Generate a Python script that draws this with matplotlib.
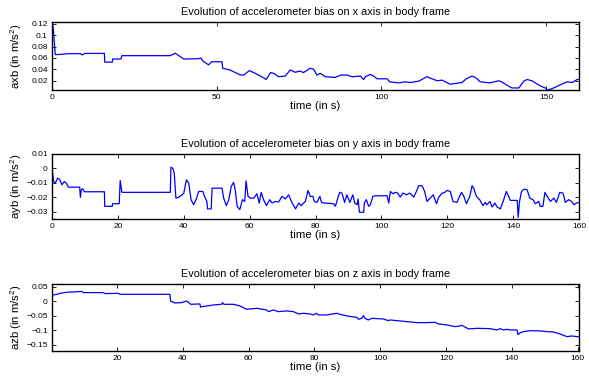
import numpy as np
import matplotlib
matplotlib.use('Agg')
import matplotlib.pyplot as plt
from matplotlib.ticker import FuncFormatter

plt.rcParams['font.family'] = ['Liberation Sans', 'DejaVu Sans']
plt.rcParams['mathtext.default'] = 'regular'

# bias on x axis [m/s^2]
t_x = [0, 0.1, 0.4, 1.0, 2, 5, 8.6, 9.2, 10, 15.9, 16.0, 18.3, 18.4, 20.9, 21.2, 35.9,
       37.4, 40, 44.5, 45.2, 45.9, 46.5, 47.5, 48.5, 51.6, 51.8, 54, 57.2, 58.2, 59.9,
       61.7, 64.2, 65, 66.3, 67.3, 68.8, 70.8, 72.3, 73.8, 75.3, 76.3, 78.4, 79.4, 80.4,
       81.4, 83, 86, 87.6, 89.6, 91.1, 93.6, 94.6, 95.1, 96.6, 97.6, 98.7, 101.7, 102.5,
       105.2, 107.2, 108.8, 111.3, 113.8, 116.9, 118.4, 120.9, 124.4, 125.9, 127.5, 128.5,
       130, 133, 135.5, 136.5, 138.1, 139.6, 141.7, 143.2, 144.2, 145.7, 148.2, 149.7,
       150.3, 151.8, 153.3, 156.3, 157.9, 159.4, 160]
axb = [0.004, 0.123, 0.11, 0.066, 0.066, 0.0675, 0.0677, 0.0653, 0.068, 0.068, 0.0528,
       0.0528, 0.0582, 0.0582, 0.0641, 0.0641, 0.0683, 0.0582, 0.0588, 0.06, 0.054, 0.052,
       0.048, 0.0534, 0.0534, 0.0421, 0.0391, 0.0302, 0.0302, 0.0379, 0.0332, 0.0254,
       0.0224, 0.0344, 0.0332, 0.0272, 0.0284, 0.0391, 0.035, 0.0373, 0.0344, 0.0421,
       0.0403, 0.0302, 0.0332, 0.0272, 0.026, 0.0302, 0.0302, 0.0272, 0.0284, 0.0224,
       0.0272, 0.0314, 0.0284, 0.0236, 0.0236, 0.0183, 0.0165, 0.0183, 0.0171, 0.0195,
       0.0272, 0.0201, 0.0213, 0.0141, 0.0171, 0.0242, 0.0284, 0.026, 0.0183, 0.0165,
       0.0201, 0.0183, 0.0123, 0.0076, 0.0076, 0.0195, 0.0224, 0.0201, 0.0111, 0.0076,
       0.004, 0.0064, 0.0105, 0.0183, 0.0171, 0.0224, 0.0224]

# bias on y axis
t_y = [0, 0.5, 1, 1.7, 2.3, 3, 3.7, 4.3, 5.0, 8.4, 8.6, 8.9, 9.3, 9.9, 15.9, 16.0, 18.3,
       18.4, 20.4, 20.7, 21.2, 35.9, 36.1, 36.7, 37.1, 37.6, 38.4, 39.5, 40.0, 40.8, 41.5,
       42.2, 43, 43.8, 44.5, 45.8, 46.2, 47, 47.2, 48.3, 48.6, 51.6, 52.1, 52.9, 53.6,
       54.4, 55.1, 55.6, 56.2, 57, 57.8, 58.5, 58.9, 59.5, 60.2, 61.2, 62.2, 62.9, 63.5,
       64.2, 65.1, 66.1, 66.8, 67.8, 68.8, 69.8, 70.8, 71.8, 72.9, 73.9, 74.9, 75.6, 76.9,
       77.7, 78.4, 79.2, 79.6, 80.4, 81.3, 81.8, 82.5, 85.5, 86, 87.3, 88, 88.8, 89.5,
       90.4, 91.3, 91.9, 92.6, 92.9, 93.3, 94.6, 94.8, 95.4, 96.1, 96.6, 97.4, 98.1,
       101.7, 102.2, 102.7, 103.5, 104.2, 104.9, 105.7, 106.5, 107.6, 108.6, 109.8, 110.6,
       111.3, 112.3, 113.1, 113.8, 114.8, 115.7, 116.7, 117.4, 118.4, 118.9, 119.9, 120.9,
       121.7, 122.9, 123.7, 124.3, 125, 125.8, 126.8, 127.5, 128, 128.8, 129.8, 130.8,
       131.5, 132.0, 132.9, 133.6, 134.4, 135.1, 136.1, 137.1, 137.9, 138.6, 139.1, 141.2,
       141.5, 141.9, 142.5, 143.2, 144.2, 145, 146, 146.7, 147.7, 148.2, 149, 149.6,
       150.3, 151.3, 152.3, 153.1, 154.1, 155.1, 155.8, 156.8, 157.7, 158.4, 159.2, 160]
ayb = [0.0, -0.0091, -0.0102, -0.0068, -0.0075, -0.0114, -0.0091, -0.0102, -0.0130,
       -0.0130, -0.0201, -0.0148, -0.0141, -0.0162, -0.0162, -0.0263, -0.0263, -0.0245,
       -0.0245, -0.0084, -0.0166, -0.0166, 0.0008, 0.0, -0.0033, -0.0206, -0.0201,
       -0.0183, -0.0171, -0.0079, -0.0102, -0.0217, -0.0252, -0.0212, -0.0160, -0.0160,
       -0.0190, -0.0229, -0.0281, -0.0281, -0.0137, -0.0137, -0.0206, -0.0258, -0.0222,
       -0.0125, -0.0097, -0.0148, -0.0263, -0.0286, -0.0217, -0.0229, -0.0086, -0.0194,
       -0.0206, -0.0206, -0.0176, -0.0240, -0.0166, -0.0217, -0.0258, -0.0217, -0.0240,
       -0.0229, -0.0233, -0.0194, -0.0212, -0.0183, -0.0240, -0.0281, -0.0240, -0.0258,
       -0.0229, -0.0153, -0.0194, -0.0194, -0.0229, -0.0236, -0.0194, -0.0236, -0.0240,
       -0.0245, -0.0263, -0.0166, -0.0171, -0.0236, -0.0183, -0.0236, -0.0183, -0.0240,
       -0.0252, -0.0212, -0.0304, -0.0304, -0.0240, -0.0217, -0.0263, -0.0252, -0.0194,
       -0.0190, -0.0190, -0.0240, -0.0160, -0.0176, -0.0166, -0.0171, -0.0199, -0.0171,
       -0.0183, -0.0171, -0.0199, -0.0160, -0.0120, -0.0120, -0.0160, -0.0229, -0.0206,
       -0.0183, -0.0245, -0.0199, -0.0171, -0.0171, -0.0153, -0.0160, -0.0229, -0.0236,
       -0.0194, -0.0166, -0.0194, -0.0245, -0.0194, -0.0120, -0.0137, -0.0194, -0.0217,
       -0.0258, -0.0236, -0.0252, -0.0229, -0.0268, -0.0240, -0.0268, -0.0281, -0.0217,
       -0.0160, -0.0194, -0.0222, -0.0222, -0.0339, -0.0229, -0.0160, -0.0144, -0.0148,
       -0.0206, -0.0217, -0.0245, -0.0229, -0.0263, -0.0263, -0.0166, -0.0194, -0.0229,
       -0.0206, -0.0236, -0.0166, -0.0171, -0.0236, -0.0217, -0.0229, -0.0252, -0.0240,
       -0.0236]

# bias on z axis
t_z = [0.25, 0.5, 1.7, 2.7, 4.7, 8.7, 9.3, 9.8, 15.8, 16.4, 20.4, 20.9, 36.1, 36.3, 37.6,
       39.7, 41.2, 42.4, 45.2, 45.4, 49.3, 51.8, 52.1, 52.5, 55.4, 57.4, 59.4, 62.5, 65.5,
       66, 67.5, 69, 71.6, 73.6, 75.2, 76.7, 78.7, 79.7, 80.7, 81.2, 83.8, 86.8, 87.8,
       89.9, 91.4, 92.9, 93.4, 94.4, 94.9, 95.4, 96.4, 97.5, 101, 102.5, 103, 106.1, 108.1,
       111.1, 114.2, 116.7, 117.7, 120.3, 122.8, 124.3, 124.8, 126.9, 129.4, 133.4, 135.5,
       136.5, 137.5, 138.5, 139.5, 141.6, 141.9, 142.6, 143.6, 145.6, 148.7, 150.7, 152.7,
       154.7, 156.8, 158.3, 159.8, 160.5]
azb = [0.0066, 0.021, 0.0237, 0.027, 0.0306, 0.0329, 0.0337, 0.0294, 0.0294, 0.026,
       0.0271, 0.0237, 0.0237, 0.0, -0.0058, -0.0049, 0.0009, -0.0106, -0.0094, -0.0197,
       -0.0129, -0.0106, -0.0049, -0.0106, -0.0106, -0.0163, -0.0277, -0.0243, -0.030,
       -0.0357, -0.030, -0.0357, -0.0334, -0.0357, -0.0437, -0.0414, -0.0437, -0.0471,
       -0.0414, -0.0471, -0.0471, -0.0414, -0.0449, -0.0506, -0.0529, -0.0551, -0.062,
       -0.0586, -0.0494, -0.0586, -0.0643, -0.0586, -0.0609, -0.0666, -0.0643, -0.0677,
       -0.070, -0.0734, -0.0734, -0.0723, -0.078, -0.0814, -0.0871, -0.0849, -0.0826,
       -0.0951, -0.0929, -0.0940, -0.0986, -0.0940, -0.0986, -0.0963, -0.0986, -0.0986,
       -0.1146, -0.1077, -0.1043, -0.1009, -0.1020, -0.1043, -0.1054, -0.1123, -0.1214,
       -0.1191, -0.1214, -0.1214]

x_ticks = [[0, 50, 100, 150], list(range(0, 161, 20)), list(range(20, 161, 20))]
y_ticks = [[0.02, 0.04, 0.06, 0.08, 0.1, 0.12],
           [-0.03, -0.02, -0.01, 0, 0.01],
           [-0.15, -0.1, -0.05, 0, 0.05]]


def fmt(v, pos):
    s = '%g' % round(v, 4)
    return s.replace('-', '\u2212')


def bias_panel(fig, rect, t, b, axis, xlim, ylim, xt, yt):
    ax = fig.add_axes(rect)
    ax.plot(t, b, color='#0000ff', lw=0.9)
    ax.set_xlim(xlim)
    ax.set_ylim(ylim)
    ax.set_xticks(xt)
    ax.set_yticks(yt)
    ax.yaxis.set_major_formatter(FuncFormatter(fmt))
    ax.tick_params(direction='in', length=3, width=0.6, labelsize=6,
                   top=True, right=True, pad=3)
    for sp in ax.spines.values():
        sp.set_linewidth(1.0)
    ax.set_title('Evolution of accelerometer bias on %s axis in body frame' % axis,
                 fontsize=7.8, pad=5)
    ax.set_xlabel('time (in s)', fontsize=8.2, labelpad=0)
    ax.set_ylabel('a%sb (in m/s$^2$)' % axis, fontsize=8.2)
    ax.yaxis.set_label_coords(-0.053, 0.5)
    return ax


fig = plt.figure(figsize=(5.89, 3.79), dpi=100)
bias_panel(fig, [0.0883, 0.7625, 0.895, 0.1795], t_x, axb, 'x',
           (0, 160), (0.004, 0.123), x_ticks[0], y_ticks[0])
bias_panel(fig, [0.0883, 0.4214, 0.895, 0.1723], t_y, ayb, 'y',
           (0, 160), (-0.0353, 0.01), x_ticks[1], y_ticks[1])
bias_panel(fig, [0.0883, 0.0739, 0.895, 0.1768], t_z, azb, 'z',
           (0.25, 160.5), (-0.1706, 0.059), x_ticks[2], y_ticks[2])
fig.savefig('out.png', dpi=100)
